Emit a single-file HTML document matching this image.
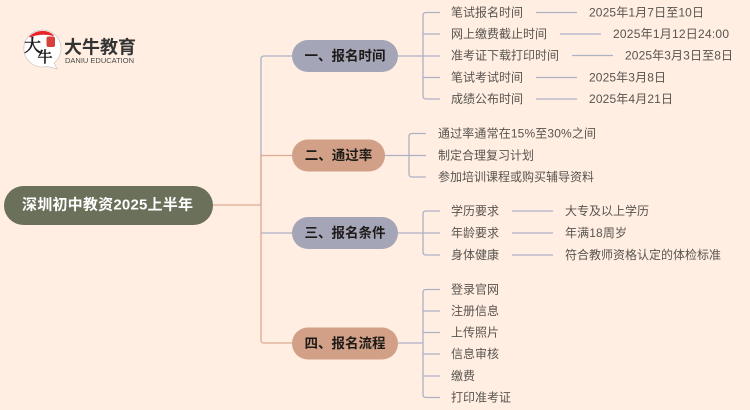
<!DOCTYPE html>
<html><head><meta charset="utf-8"><style>
html,body{margin:0;padding:0;background:#ffeee1;width:750px;height:410px;overflow:hidden}
svg{display:block;filter:blur(.25px)}
text{font-family:"Liberation Sans","Noto Sans CJK SC",sans-serif}
.t{font-size:12px;fill:#595450;dominant-baseline:central}
.m{font-size:13.500px;font-weight:bold;fill:#1e1b19;text-anchor:middle;dominant-baseline:central}
.b{fill:none;stroke:#aeb0c6;stroke-width:1.3}
.p{fill:none;stroke:#dcab92;stroke-width:1.3}
</style></head><body>
<svg width="750" height="410" viewBox="0 0 750 410" xmlns="http://www.w3.org/2000/svg">
<rect width="750" height="410" fill="#ffeee1"/>
<!-- logo -->
<path d="M42 30a18.500 18.500 0 1 0 5 36.400l10 2.600-3-6a18.500 18.500 0 0 0-12-33z" fill="#fff" stroke="#c9c5c2" stroke-width=".7"/>
<path d="M29.500 37a17.500 17.500 0 0 1 24-1.500q-12-3-24 1.500z" fill="#e8262a" stroke="#e8262a" stroke-width="1"/>
<rect x="46.500" y="36.500" width="8.500" height="10.500" rx="2" fill="#d8403c"/>
<text x="32.500" y="46" font-size="17" fill="#1c1a1a" stroke="#1c1a1a" stroke-width=".6" text-anchor="middle" dominant-baseline="central" style="font-family:'Liberation Serif','Noto Serif CJK SC',serif">大</text>
<text x="45" y="58" font-size="15" fill="#1c1a1a" stroke="#1c1a1a" stroke-width=".6" text-anchor="middle" dominant-baseline="central" style="font-family:'Liberation Serif','Noto Serif CJK SC',serif">牛</text>
<text x="64" y="47.500" font-size="18" font-weight="bold" fill="#333" dominant-baseline="central">大牛教育</text>
<text x="65" y="60.500" font-size="7.500" fill="#4a4a4a" dominant-baseline="central" textLength="69">DANIU EDUCATION</text>
<!-- trunk -->
<path class="p" d="M213 205H261M261 205V340q0 3 3 3H292M261 155.500H292"/>
<path class="b" d="M261 205V59q0-3 3-3H292M261 233H292"/>
<path d="M261 155V205" stroke="#dcab92" stroke-width="1.3"/>
<!-- branch 1 -->
<path class="b" d="M398 56H440M440 12.500H426q-3 0-3 3V96q0 3 3 3H440M423 34H440M423 77.500H440"/>
<path class="b" d="M536 12.500H577M560 34H601M572 55.500H613M536 77.500H577M536 99H577"/>
<!-- branch 2 -->
<path class="b" d="M385 155.500H426M426 133.500H412q-3 0-3 3V174q0 3 3 3H426"/>
<!-- branch 3 -->
<path class="b" d="M398 233H440M440 211H426q-3 0-3 3V252q0 3 3 3H440"/>
<path class="b" d="M512 211H553M512 233H553M512 255H553"/>
<!-- branch 4 -->
<path class="b" d="M398 343H423M440 289.500H426q-3 0-3 3V394.500q0 3 3 3H440M423 311H440M423 332.500H440M423 354H440M423 376H440"/>
<!-- nodes -->
<rect x="4" y="186" width="209" height="39" rx="19.500" fill="#6a7059"/>
<text x="22" y="205" font-size="15" font-weight="bold" fill="#fff" dominant-baseline="central" textLength="171">深圳初中教资2025上半年</text>
<rect x="292" y="40" width="106" height="32" rx="16" fill="#a5a5b8"/>
<text class="m" x="345" y="56">一、报名时间</text>
<rect x="292" y="139.500" width="93" height="32" rx="16" fill="#d1a087"/>
<text class="m" x="338.500" y="155.500">二、通过率</text>
<rect x="292" y="217" width="106" height="32" rx="16" fill="#a5a5b8"/>
<text class="m" x="345" y="233">三、报名条件</text>
<rect x="292" y="327.500" width="106" height="32" rx="16" fill="#d1a087"/>
<text class="m" x="345" y="343.500">四、报名流程</text>
<!-- leaves 1 -->
<text class="t" x="451" y="12.500">笔试报名时间</text>
<text class="t" x="451" y="34">网上缴费截止时间</text>
<text class="t" x="451" y="55.500">准考证下载打印时间</text>
<text class="t" x="451" y="77.500">笔试考试时间</text>
<text class="t" x="451" y="99">成绩公布时间</text>
<text class="t" x="589" y="12.500" textLength="115">2025年1月7日至10日</text>
<text class="t" x="613" y="34" textLength="116">2025年1月12日24:00</text>
<text class="t" x="625" y="55.500" textLength="108">2025年3月3日至8日</text>
<text class="t" x="589" y="77.500" textLength="77">2025年3月8日</text>
<text class="t" x="589" y="99" textLength="84">2025年4月21日</text>
<!-- leaves 2 -->
<text class="t" x="438" y="133.500" textLength="158">通过率通常在15%至30%之间</text>
<text class="t" x="438" y="155.500">制定合理复习计划</text>
<text class="t" x="438" y="177">参加培训课程或购买辅导资料</text>
<!-- leaves 3 -->
<text class="t" x="451" y="211">学历要求</text>
<text class="t" x="451" y="233">年龄要求</text>
<text class="t" x="451" y="255">身体健康</text>
<text class="t" x="565" y="211">大专及以上学历</text>
<text class="t" x="565" y="233" textLength="62">年满18周岁</text>
<text class="t" x="565" y="255">符合教师资格认定的体检标准</text>
<!-- leaves 4 -->
<text class="t" x="451" y="289.500">登录官网</text>
<text class="t" x="451" y="311">注册信息</text>
<text class="t" x="451" y="332.500">上传照片</text>
<text class="t" x="451" y="354">信息审核</text>
<text class="t" x="451" y="376">缴费</text>
<text class="t" x="451" y="397.500">打印准考证</text>
</svg>
</body></html>
